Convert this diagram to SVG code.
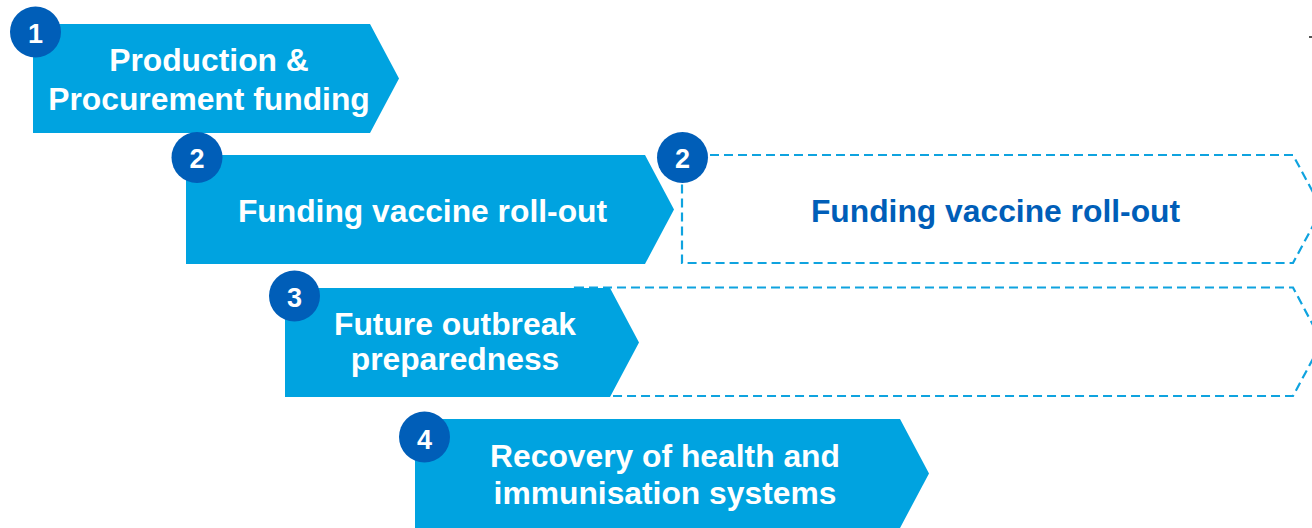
<svg xmlns="http://www.w3.org/2000/svg" width="1312" height="528" viewBox="0 0 1312 528">
  <style>
    .step { fill: #00A3E0; }
    .ghost { fill: none; stroke: #0FA3DF; stroke-width: 2.2; stroke-dasharray: 9 5; }
    .badge { fill: #005EB8; }
    .num { fill: #FFFFFF; font-family: "Liberation Sans", Arial, sans-serif; font-weight: bold; font-size: 27px; text-anchor: middle; }
    .label { fill: #FFFFFF; font-family: "Liberation Sans", Arial, sans-serif; font-weight: bold; font-size: 31.8px; text-anchor: middle; }
    .label-dark { fill: #005EB8; font-family: "Liberation Sans", Arial, sans-serif; font-weight: bold; font-size: 31.8px; text-anchor: middle; }
  </style>
  <rect width="1312" height="528" fill="#FFFFFF"/>

  <!-- dashed continuation outlines -->
  <g id="connectors">
    <polygon class="ghost" points="682,155 1293,155 1322,209 1293,263 682,263"/>
    <polygon class="ghost" points="575,287.5 1293,287.5 1322,342 1293,396 575,396"/>
  </g>

  <g id="step1">
    <polygon class="step" points="33,24 370,24 399,78.5 370,133 33,133"/>
    <circle class="badge" cx="35.5" cy="32" r="25.5"/>
    <text class="num" x="35.5" y="43">1</text>
    <text class="label" x="209" y="71">Production &amp;</text>
    <text class="label" x="209" y="110">Procurement funding</text>
  </g>

  <g id="step2">
    <polygon class="step" points="186,155 645,155 674,209.5 645,264 186,264"/>
    <circle class="badge" cx="197" cy="157.5" r="25.5"/>
    <text class="num" x="197" y="167.5">2</text>
    <text class="label" x="422.5" y="222">Funding vaccine roll-out</text>
  </g>

  <g id="step2-continued">
    <circle class="badge" cx="682.5" cy="157.5" r="25.5"/>
    <text class="num" x="682.5" y="167.5">2</text>
    <text class="label-dark" x="995.5" y="222">Funding vaccine roll-out</text>
  </g>

  <g id="step3">
    <polygon class="step" points="285,288 610,288 639,342.5 610,397 285,397"/>
    <circle class="badge" cx="294.5" cy="296" r="25.5"/>
    <text class="num" x="294.5" y="306.5">3</text>
    <text class="label" x="455" y="335">Future outbreak</text>
    <text class="label" x="455" y="370">preparedness</text>
  </g>

  <g id="step4">
    <polygon class="step" points="415,419 900,419 929,473.5 900,528 415,528"/>
    <circle class="badge" cx="424.5" cy="437" r="25.5"/>
    <text class="num" x="424.5" y="449">4</text>
    <text class="label" x="665" y="467">Recovery of health and</text>
    <text class="label" x="665" y="504">immunisation systems</text>
  </g>

  <rect x="1309" y="36" width="3" height="2" fill="#555555"/>
</svg>
